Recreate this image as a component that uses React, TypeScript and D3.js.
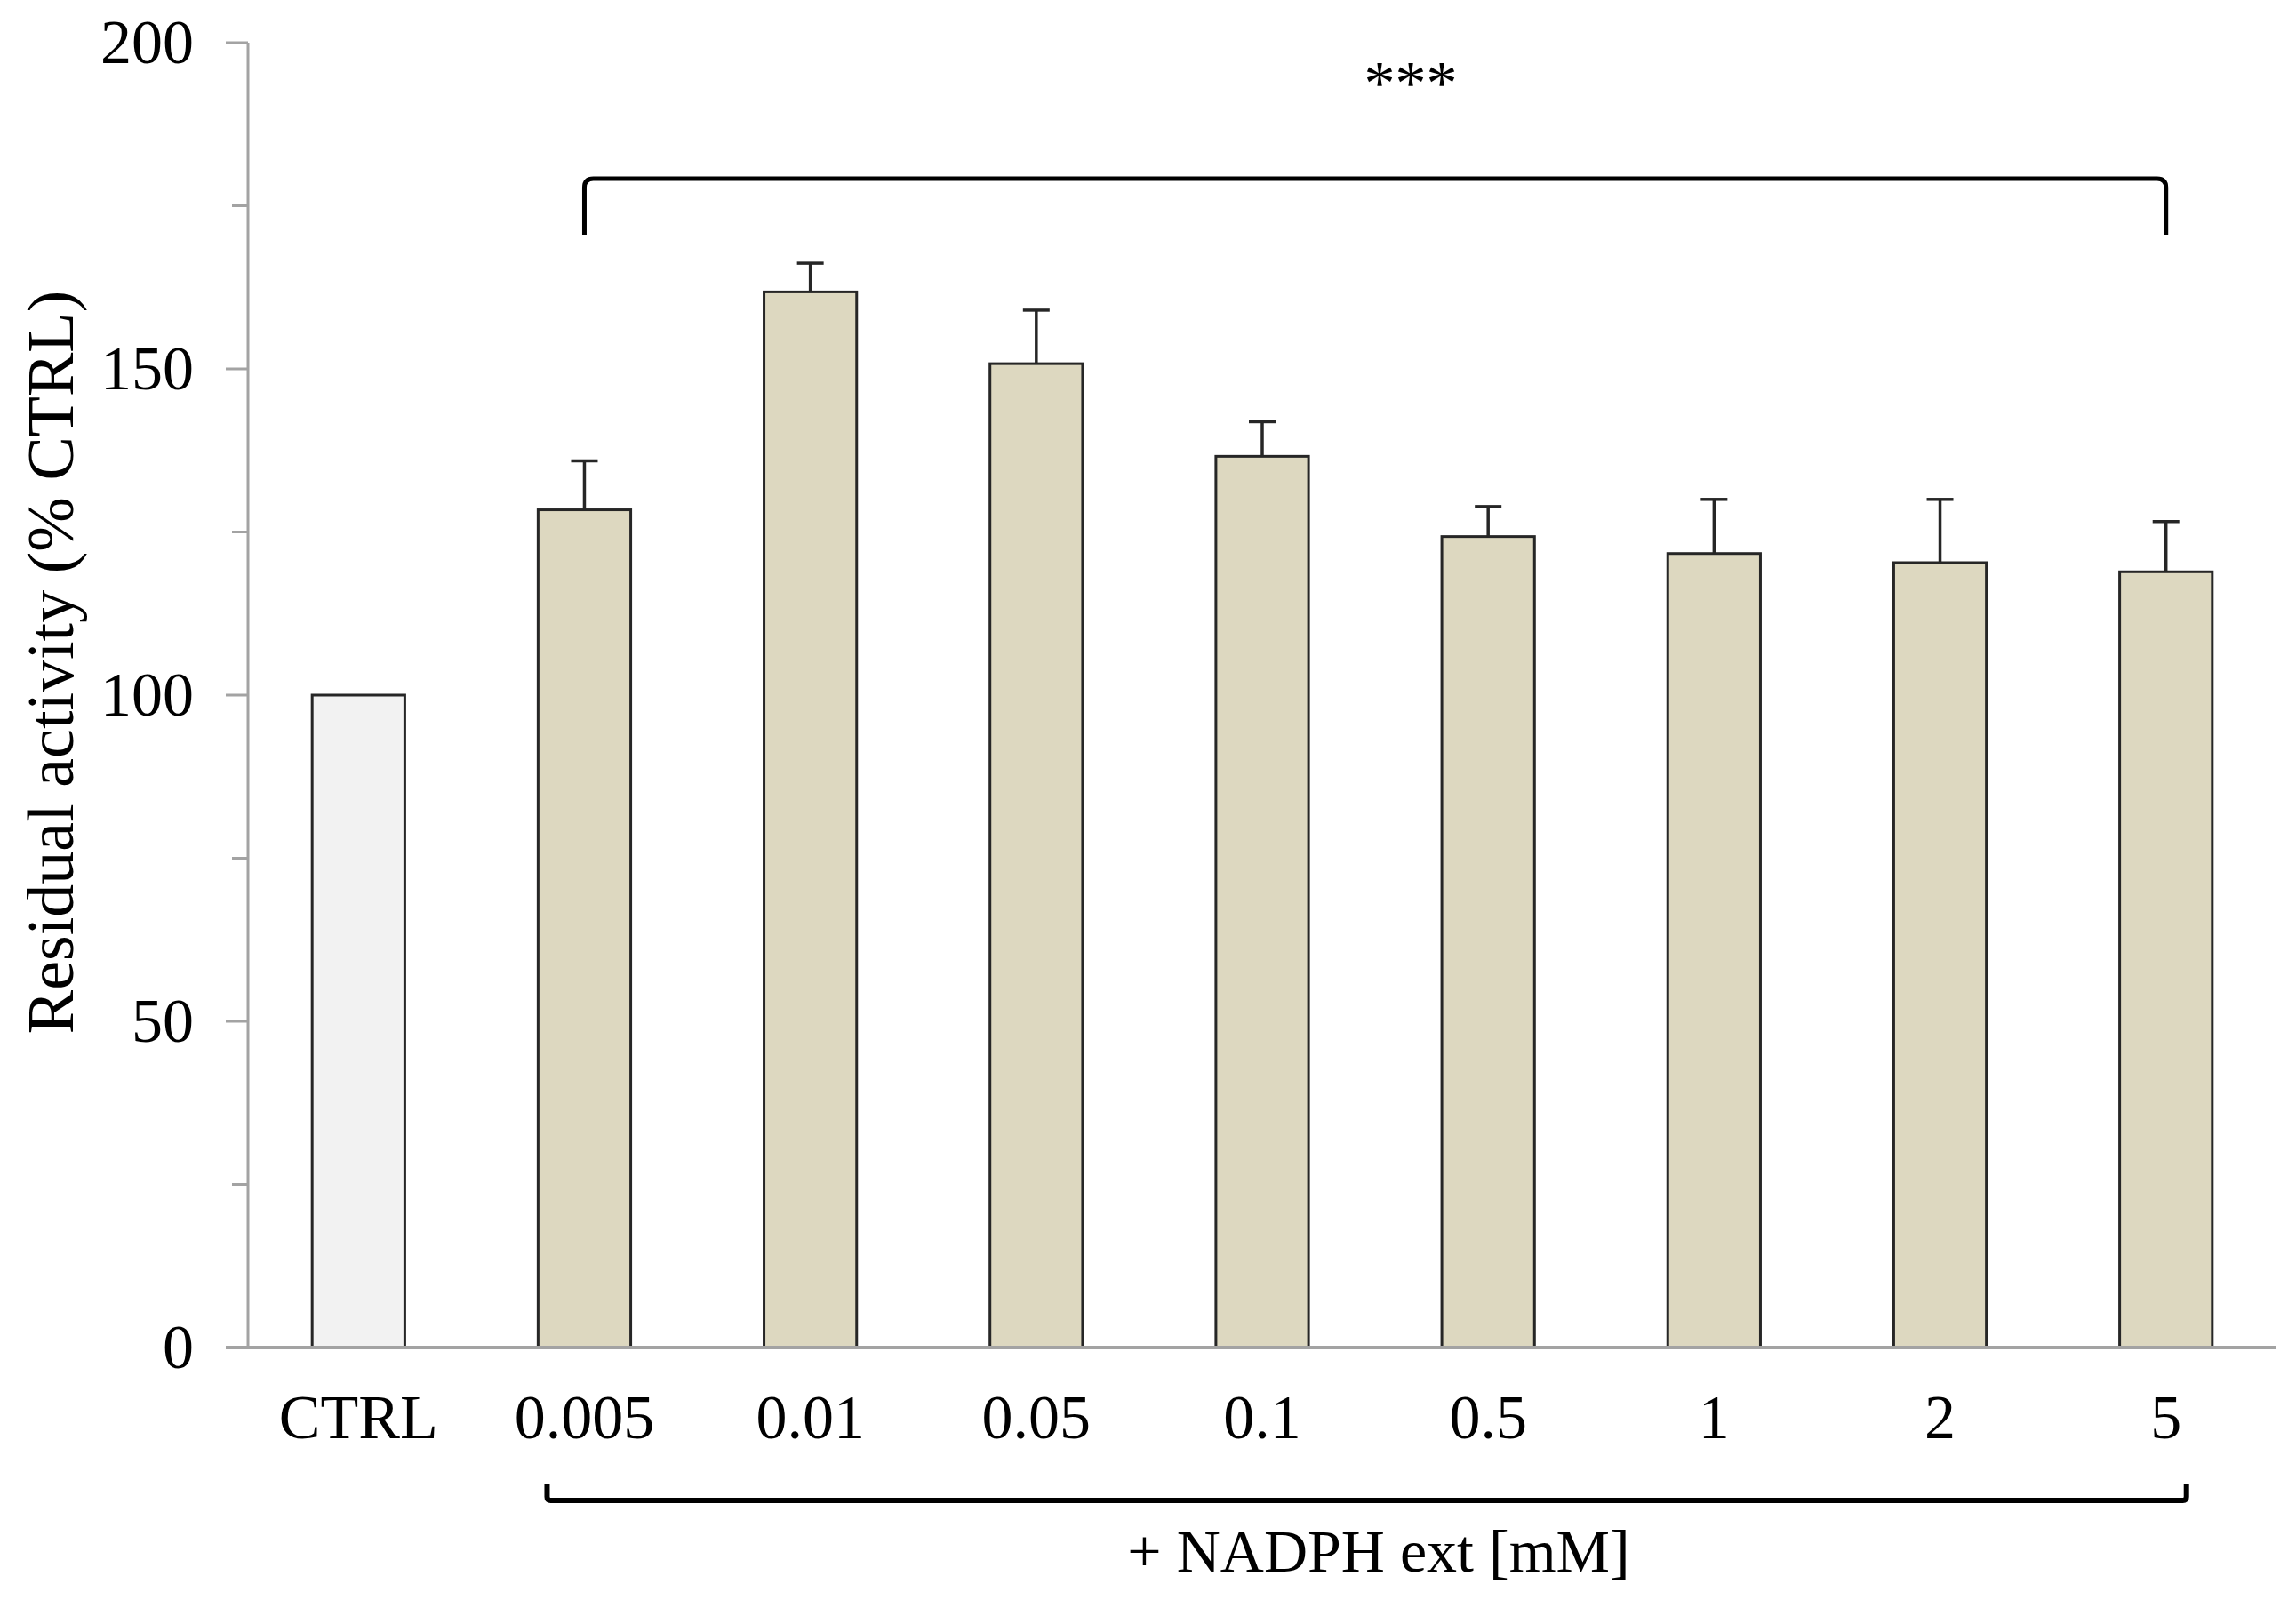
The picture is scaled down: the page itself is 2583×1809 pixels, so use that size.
import React from "react";
import * as d3 from "d3";

const categories = ["CTRL", "0.005", "0.01", "0.05", "0.1", "0.5", "1", "2", "5"];
const values = [100, 128.4, 161.8, 150.8, 136.6, 124.3, 121.7, 120.3, 118.9];
const errors = [0, 7.5, 4.4, 8.2, 5.3, 4.6, 8.3, 9.7, 7.7];
const majorTicks = [0, 50, 100, 150, 200];
const minorTicks = [25, 75, 125, 175];
const yLabel = "Residual activity (% CTRL)";
const xLabel = "+ NADPH ext [mM]";
const sigLabel = "***";

const W = 2583;
const H = 1809;
const FONT = "'Liberation Serif', 'Times New Roman', serif";

export default function App() {
  const x = d3
    .scaleBand<string>()
    .domain(categories)
    .range([279, 2561])
    .paddingInner(0.59)
    .paddingOuter(0.284);
  const y = d3.scaleLinear().domain([0, 200]).range([1516, 48]);
  const bw = x.bandwidth();
  const cx = (c: string) => (x(c) as number) + bw / 2;

  const axisColor = "#a3a3a3";
  const barStroke = "#262626";

  // top bracket
  const tl = cx("0.005");
  const tr = cx("5");
  const tTop = 201;
  const tBot = 264;
  const r = 10;
  const topPath = `M${tl},${tBot} L${tl},${tTop + r} Q${tl},${tTop} ${tl + r},${tTop} L${tr - r},${tTop} Q${tr},${tTop} ${tr},${tTop + r} L${tr},${tBot}`;

  // bottom bracket
  const bl = cx("0.005") - 42;
  const br = cx("5") + 23;
  const bTop = 1669;
  const bBot = 1688;
  const botPath = `M${bl},${bTop} L${bl},${bBot - 4} Q${bl},${bBot} ${bl + 4},${bBot} L${br - 4},${bBot} Q${br},${bBot} ${br},${bBot - 4} L${br},${bTop}`;

  return (
    <svg
      width={W}
      height={H}
      style={{ position: "absolute", left: 0, top: 0, background: "#fff" }}
      fontFamily={FONT}
    >
      <rect x={0} y={0} width={W} height={H} fill="#fff" />
      {/* y axis */}
      <line x1={279} x2={279} y1={y(200)} y2={y(0)} stroke={axisColor} strokeWidth={3} />
      {majorTicks.map((t) => (
        <g key={"mt" + t}>
          <line x1={254} x2={279} y1={y(t)} y2={y(t)} stroke={axisColor} strokeWidth={3} />
          <text x={218} y={y(t) + 23} fontSize={70} textAnchor="end" fill="#000">
            {t}
          </text>
        </g>
      ))}
      {minorTicks.map((t) => (
        <line key={"mn" + t} x1={261} x2={279} y1={y(t)} y2={y(t)} stroke={axisColor} strokeWidth={3} />
      ))}
      {/* bars */}
      {categories.map((c, i) => {
        const x0 = x(c) as number;
        const top = y(values[i]);
        return (
          <g key={c}>
            <rect
              x={x0}
              y={top}
              width={bw}
              height={y(0) - top}
              fill={i === 0 ? "#f2f2f2" : "#ddd8c0"}
              stroke={barStroke}
              strokeWidth={3}
            />
            {errors[i] > 0 && (
              <g stroke={barStroke} strokeWidth={3.5}>
                <line x1={cx(c)} x2={cx(c)} y1={top} y2={y(values[i] + errors[i])} />
                <line
                  x1={cx(c) - 15}
                  x2={cx(c) + 15}
                  y1={y(values[i] + errors[i])}
                  y2={y(values[i] + errors[i])}
                />
              </g>
            )}
            <text x={cx(c)} y={1618} fontSize={70} textAnchor="middle" fill="#000">
              {c}
            </text>
          </g>
        );
      })}
      {/* x axis */}
      <line x1={254} x2={2561} y1={y(0)} y2={y(0)} stroke={axisColor} strokeWidth={4} />
      {/* brackets */}
      <path d={topPath} fill="none" stroke="#000" strokeWidth={5} />
      <text x={1587} y={117} fontSize={70} textAnchor="middle" fill="#000">
        {sigLabel}
      </text>
      <path d={botPath} fill="none" stroke="#000" strokeWidth={6} />
      <text x={1551} y={1768} fontSize={68} textAnchor="middle" fill="#000">
        {xLabel}
      </text>
      <text
        transform={`translate(82, 745) rotate(-90)`}
        fontSize={74}
        textAnchor="middle"
        fill="#000"
      >
        {yLabel}
      </text>
    </svg>
  );
}
